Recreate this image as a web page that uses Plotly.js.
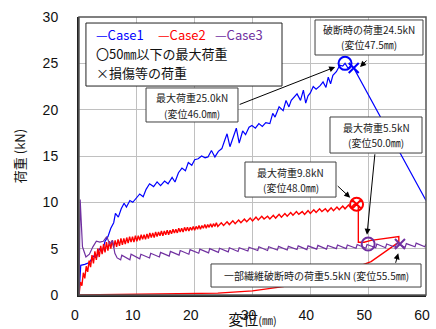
<!DOCTYPE html>
<html><head><meta charset="utf-8">
<script src="https://cdn.plot.ly/plotly-3.0.1.min.js"></script>
<style>html,body{margin:0;padding:0;background:#fff}#c{width:436px;height:329px}</style>
</head><body><div id="c"></div>
<script>
// Case1 (blue)
const case1X = [0,0.3,1.0,1.8,2.5,3.0,3.5,4.0,4.5,5.0,5.5,6.0,6.3,6.8,7.3,7.8,8.2,8.8,9.3,10.0,10.5,11.1,11.6,12.2,12.9,13.5,14.1,14.8,15.4,16.1,16.6,17.2,17.8,18.4,18.9,19.5,20.0,20.6,21.2,21.8,22.3,22.9,23.5,24.1,24.7,25.2,25.6,26.1,26.6,27.2,27.7,28.3,28.8,29.4,29.9,30.5,31.1,31.7,32.3,33.0,33.5,33.9,34.6,35.3,35.8,36.3,36.7,37.2,37.7,38.3,38.8,39.2,39.6,40.0,40.5,41.0,41.7,42.2,42.7,43.1,43.5,43.9,44.5,45.1,45.6,46.0,46.5,47.0,47.5,60];
const case1Y = [0,3.2,3.3,3.5,4.2,4.0,5.0,4.6,5.8,6.3,7.2,7.8,8.8,8.4,9.3,9.9,9.5,10.2,10.0,10.6,10.9,10.6,11.4,12.0,11.7,12.2,11.8,12.3,12.0,12.7,12.2,13.2,13.7,13.4,14.3,14.0,14.6,14.7,15.0,14.8,14.9,15.6,14.9,15.5,15.8,16.7,17.4,16.0,17.0,18.0,16.4,17.7,17.3,18.1,18.3,18.0,18.5,18.2,18.6,18.5,19.6,19.2,20.3,19.9,21.0,20.3,21.0,21.4,21.7,21.0,22.1,20.7,21.5,21.8,22.5,22.2,22.6,23.0,22.4,23.5,22.8,23.7,24.1,24.8,24.7,25.0,24.5,24.7,24.5,10.2];
// Case2 (red)
const case2X = [0,0.25,0.5,0.75,1.0,1.25,1.5,1.75,2.0,2.25,2.5,2.75,3.0,3.25,3.5,3.75,4.0,4.25,4.5,4.75,5.0,5.25,5.5,5.75,6.0,6.25,6.5,6.75,7.0,7.25,7.5,7.75,8.0,8.25,8.5,8.75,9.0,9.25,9.5,9.75,10.0,10.25,10.5,10.75,11.0,11.25,11.5,11.75,12.0,12.25,12.5,12.75,13.0,13.25,13.5,13.75,14.0,14.25,14.5,14.75,15.0,15.25,15.5,15.75,16.0,16.25,16.5,16.75,17.0,17.25,17.5,17.75,18.0,18.25,18.5,18.75,19.0,19.25,19.5,19.75,20.0,20.25,20.5,20.75,21.0,21.25,21.5,21.75,22.0,22.25,22.5,22.75,23.0,23.25,23.5,23.75,24.0,24.6,25.0,25.6,26.0,26.6,27.0,27.6,28.0,28.6,29.0,29.6,30.0,30.6,31.0,31.6,32.0,32.6,33.0,33.6,34.0,34.6,35.0,35.6,36.0,36.6,37.0,37.6,38.0,38.6,39.0,39.6,40.0,40.6,41.0,41.6,42.0,42.6,43.0,43.6,44.0,44.6,45.0,45.6,46.0,46.6,47.0,47.6,48.0,48.3,48.3,49.3,50.5,52.0,53.5,55.3,55.3,53.0,50.5,45.0,40.0,35.3,30.0,24.0,15.0,5.0,0];
const case2Y = [0,1.4,1.0,2.4,1.8,3.1,2.5,3.7,3.0,4.3,3.4,4.7,3.8,5.0,4.1,5.3,4.4,5.5,4.6,5.7,4.8,5.8,5.0,5.9,5.1,5.9,5.2,6.0,5.3,6.1,5.4,6.1,5.5,6.2,5.6,6.3,5.7,6.3,5.7,6.4,5.8,6.4,5.9,6.5,6.0,6.5,6.0,6.6,6.1,6.7,6.2,6.7,6.2,6.8,6.3,6.8,6.4,6.9,6.4,6.9,6.5,7.0,6.5,7.0,6.6,7.1,6.7,7.1,6.7,7.2,6.8,7.2,6.8,7.3,6.9,7.3,6.9,7.3,7.0,7.4,7.0,7.4,7.1,7.5,7.1,7.5,7.2,7.6,7.2,7.6,7.3,7.7,7.3,7.7,7.4,7.8,7.4,7.8,7.5,7.9,7.6,8.0,7.7,8.1,7.8,8.2,7.9,8.3,8.0,8.4,8.1,8.5,8.2,8.5,8.2,8.6,8.3,8.7,8.4,8.8,8.5,8.9,8.6,9.0,8.7,9.0,8.7,9.1,8.8,9.2,8.9,9.3,9.0,9.3,9.0,9.4,9.1,9.5,9.2,9.6,9.3,9.7,9.4,9.8,9.8,9.6,5.7,5.7,5.9,6.05,6.15,6.3,5.7,4.7,3.6,2.3,1.5,0.9,0.45,0.2,0.1,0.03,0];
// Case3 (purple)
const case3X = [0,0.2,0.6,1.2,1.8,2.4,3.0,3.6,4.2,4.8,5.3,5.8,6.2,6.6,7.2,7.4,8.8,9.0,10.5,10.7,12.2,12.4,13.9,14.1,15.6,15.8,17.3,17.5,19.0,19.2,20.7,20.9,22.4,22.6,24.1,24.3,25.8,26.0,27.5,27.7,29.2,29.4,30.9,31.1,32.6,32.8,34.3,34.5,36.0,36.2,37.7,37.9,39.4,39.6,41.1,41.3,42.8,43.0,44.5,44.7,46.2,46.4,47.9,48.1,49.6,49.8,51.3,51.5,53.0,53.2,54.7,54.9,56.4,56.6,58.1,58.3,59.8,60];
const case3Y = [0,10.3,5.2,4.1,4.4,5.2,5.8,5.7,5.8,6.3,5.5,5.9,4.5,4.0,3.8,4.3,3.8,4.4,3.9,4.4,4.0,4.5,4.1,4.6,4.2,4.7,4.3,4.8,4.4,4.9,4.5,4.95,4.55,5.0,4.6,5.05,4.65,5.1,4.7,5.1,4.75,5.15,4.8,5.2,4.8,5.2,4.85,5.25,4.85,5.25,4.9,5.3,4.9,5.3,4.95,5.35,4.95,5.35,5.0,5.4,5.0,5.4,5.05,5.45,5.05,5.45,5.1,5.5,5.1,5.5,5.15,5.55,5.15,5.55,5.2,5.6,5.2,5.5];
// Marked points
const maxX = [46.0], maxY = [25.0];          // Case1 max (circle)
const breakX = [47.5], breakY = [24.5];      // Case1 break (cross)
const max2X = [48.0], max2Y = [9.8];         // Case2 max
const max3X = [50.0], max3Y = [5.5];         // Case3 max
const brk3X = [55.5], brk3Y = [5.5];         // Case3 partial break
const xTicks = [0,10,20,30,40,50,60];
const yTicks = [0,5,10,15,20,25,30];
const caseNames = ['Case1', 'Case2', 'Case3'];
const legendNotes = ['〇50㎜以下の最大荷重', '×損傷等の荷重'];

const BLUE = '#0000ff', RED = '#ff0000', PUR = '#7030a0';
const JP = '"Noto Sans CJK JP", "Noto Sans", sans-serif';

const traces = [
  {x: case1X, y: case1Y, mode: 'lines', line: {color: BLUE, width: 1.2}, name: caseNames[0]},
  {x: case2X, y: case2Y, mode: 'lines', line: {color: RED, width: 1.4}, name: caseNames[1]},
  {x: case3X, y: case3Y, mode: 'lines', line: {color: PUR, width: 1.2}, name: caseNames[2]},
  {x: maxX, y: maxY, mode: 'markers', marker: {symbol: 'circle-open', size: 13, color: BLUE, line: {width: 2, color: BLUE}}},
  {x: breakX, y: breakY, mode: 'markers', marker: {symbol: 'x-thin-open', size: 10, color: BLUE, line: {width: 2, color: BLUE}}},
  {x: max2X, y: max2Y, mode: 'markers', marker: {symbol: 'circle-x-open', size: 13, color: RED, line: {width: 2, color: RED}}},
  {x: max3X, y: max3Y, mode: 'markers', marker: {symbol: 'circle-open', size: 13, color: PUR, line: {width: 2, color: PUR}}},
  {x: brk3X, y: brk3Y, mode: 'markers', marker: {symbol: 'x-thin-open', size: 10, color: PUR, line: {width: 2, color: PUR}}}
];

// callout boxes: [x0, x1, y0, y1] in axis units, then text lines with their y
const boxes = [
  {r: [11.59, 27.49, 18.67, 22.34], cx: 19.54, lines: [['最大荷重25.0kN', 21.26], ['(変位46.0㎜)', 19.64]]},
  {r: [40.81, 59.48, 25.90, 29.68], cx: 50.15, lines: [['破断時の荷重24.5kN', 28.60], ['(変位47.5㎜)', 26.98]]},
  {r: [43.40, 59.31, 15.32, 19.21], cx: 51.36, lines: [['最大荷重5.5kN', 18.07], ['(変位50.0㎜)', 16.46]]},
  {r: [28.70, 44.44, 10.57, 14.35], cx: 36.57, lines: [['最大荷重9.8kN', 13.27], ['(変位48.0㎜)', 11.65]]},
  {r: [22.83, 59.14, 0.86, 3.35], cx: 40.98, lines: [['一部繊維破断時の荷重5.5kN (変位55.5㎜)', 2.10]]}
];

function arrow(x, y, ax, ay) {
  return {text: '', x: x, y: y, xref: 'x', yref: 'y', showarrow: true,
    ax: ax, ay: ay, arrowhead: 2, arrowsize: 1.2, arrowwidth: 1, arrowcolor: '#000'};
}
function leg(text, x, y, color) {
  return {text: text, x: x, y: y, xref: 'x', yref: 'y', showarrow: false,
    xanchor: 'left', yanchor: 'middle', borderpad: 0,
    font: {family: JP, size: 13, color: color}};
}

const annotations = [
  arrow(44.3, 24.6, -97, 38),
  arrow(48.6, 24.6, 8, -8),
  arrow(49.8, 6.5, 8, -82),
  arrow(46.9, 10.5, -14, -13),
  arrow(55.2, 4.5, -3, 11),
  leg('—' + caseNames[0], 2.8, 28.1, BLUE),
  leg('—' + caseNames[1], 13.4, 28.1, RED),
  leg('—' + caseNames[2], 23.3, 28.1, PUR),
  leg(legendNotes[0], 2.8, 26.11, '#111'),
  leg(legendNotes[1], 2.8, 24.06, '#111')
];
const shapes = [
  {type: 'rect', xref: 'x', yref: 'y', x0: 1.2, x1: 35.1, y0: 22.55, y1: 29.35,
   line: {color: '#222', width: 1}, fillcolor: '#fff', layer: 'above'},
  {type: 'rect', xref: 'paper', yref: 'paper', x0: 0, x1: 1, y0: 0, y1: 1,
   line: {color: '#555', width: 1.5}, layer: 'above'}
];
boxes.forEach(b => {
  shapes.push({type: 'rect', xref: 'x', yref: 'y', x0: b.r[0], x1: b.r[1], y0: b.r[2], y1: b.r[3],
    line: {color: '#404040', width: 1}, fillcolor: '#fff', layer: 'above'});
  b.lines.forEach(l => annotations.push({text: l[0], x: b.cx, y: l[1], xref: 'x', yref: 'y',
    showarrow: false, borderpad: 0, font: {family: JP, size: 10, color: '#222'}}));
});

const layout = {
  width: 436, height: 329,
  margin: {l: 79, r: 10, t: 17, b: 34},
  paper_bgcolor: '#fff', plot_bgcolor: '#fff',
  showlegend: false,
  font: {family: '"Liberation Sans", Arial, sans-serif', color: '#111'},
  xaxis: {range: [0, 60], tickvals: xTicks, ticktext: xTicks.map(String),
    showgrid: true, gridcolor: '#c0c0c0', gridwidth: 1, zeroline: false,
    showline: true, linecolor: '#222', linewidth: 2,
    tickfont: {size: 14, color: '#111'}, ticklabelstandoff: 6, ticklabelshift: -4,
    title: {text: '<span style="font-size:15px">変位</span><span style="font-size:11px">(㎜)</span>',
      font: {family: JP, size: 15, color: '#111'}, standoff: 0}},
  yaxis: {range: [0, 30], tickvals: yTicks, ticktext: yTicks.map(String),
    showgrid: true, gridcolor: '#c0c0c0', gridwidth: 1, zeroline: false,
    showline: true, linecolor: '#222', linewidth: 2,
    tickfont: {size: 14, color: '#111'}, ticklabelstandoff: 16,
    title: {text: '荷重 (kN)', font: {family: JP, size: 13, color: '#111'}, standoff: 14}},
  annotations: annotations,
  shapes: shapes
};

Plotly.newPlot('c', traces, layout, {displayModeBar: false, staticPlot: true});
</script></body></html>
